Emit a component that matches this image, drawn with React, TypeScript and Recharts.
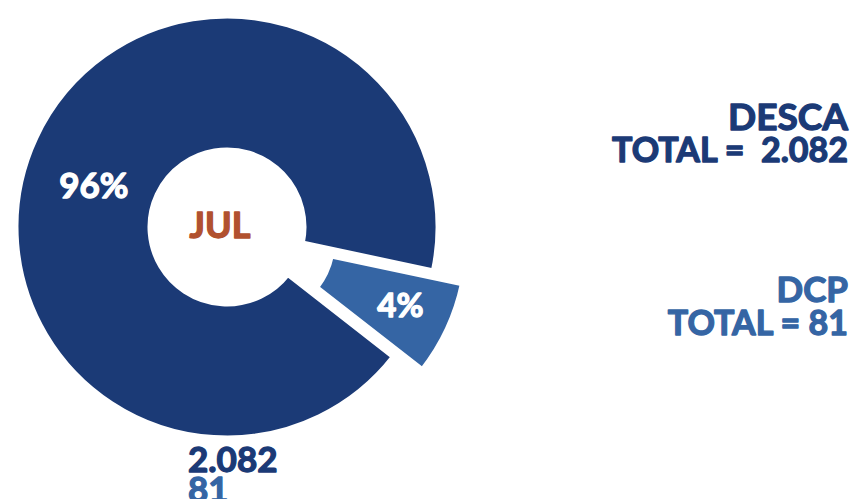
import { PieChart, Pie, Cell } from "recharts";

// slice data
const categories = ["DESCA", "DCP"];
const totals = [2082, 81];
const monthLabel = "JUL";
const totalLabels = ["2.082", "81"];

const data = categories.map((name, i) => ({ name, value: totals[i] }));

const NAVY = "#1b3a76";
const LIGHT = "#3565a4";
const RUST = "#b1512f";
const FONT = "Lato, 'Open Sans', sans-serif";

const CX = 222;
const CY = 222;
const START = -12;
// offset of the exploded DCP slice
const EXPLODE = { dx: 29, dy: 13 };
// label placement tweaks per slice
const LABEL_RADIUS = [140, 158];
const LABEL_SHIFT = [7, 1];

const RAD = Math.PI / 180;

// heavier lettering: fill + same-colour outline
const heavy = (c: string, w = 1.3) => ({
  fill: c,
  stroke: c,
  strokeWidth: w,
  strokeLinejoin: "round" as const,
});

const renderLabel = (only: number) => (props: any) => {
  const { cx, cy, midAngle, percent, index } = props;
  if (index !== only) return null;
  const a = (midAngle + LABEL_SHIFT[index]) * RAD;
  const r = LABEL_RADIUS[index];
  const x = cx + r * Math.cos(-a);
  const y = cy + r * Math.sin(-a);
  return (
    <text
      x={x}
      y={y}
      {...heavy("#fff")}
      textAnchor="middle"
      dominantBaseline="central"
      fontFamily={FONT}
      fontWeight={700}
      fontSize={index === 0 ? 35 : 33}
    >
      {`${Math.round(percent * 100)}%`}
    </text>
  );
};

export default function App() {
  return (
    <div style={{ position: "absolute", left: 0, top: 0, width: 855, height: 499, background: "#fff" }}>
      <PieChart width={855} height={499}>
        <Pie
          data={data}
          dataKey="value"
          nameKey="name"
          cx={CX}
          cy={CY}
          innerRadius={77}
          outerRadius={211}
          startAngle={START}
          endAngle={START + 360}
          minAngle={13.5}
          label={renderLabel(0)}
          labelLine={false}
          isAnimationActive={false}
        >
          <Cell fill={NAVY} stroke="#fff" strokeWidth={5} />
          <Cell fill="transparent" stroke="none" />
        </Pie>
        <Pie
          data={data}
          dataKey="value"
          nameKey="name"
          cx={CX + EXPLODE.dx}
          cy={CY + EXPLODE.dy}
          innerRadius={77}
          outerRadius={211}
          startAngle={START}
          endAngle={START + 360}
          minAngle={13.5}
          label={renderLabel(1)}
          labelLine={false}
          isAnimationActive={false}
        >
          <Cell fill="transparent" stroke="none" />
          <Cell fill={LIGHT} stroke="#fff" strokeWidth={5} />
        </Pie>
      </PieChart>
      <svg
        width={855}
        height={499}
        style={{ position: "absolute", left: 0, top: 0, pointerEvents: "none" }}
        fontFamily={FONT}
        fontWeight={700}
      >
        <text x={220} y={238} textAnchor="middle" {...heavy(RUST)} fontSize={36}>
          {monthLabel}
        </text>
        <text x={848} y={130} textAnchor="end" {...heavy(NAVY)} fontSize={37}>
          {categories[0]}
        </text>
        <text x={848} y={162} textAnchor="end" {...heavy(NAVY)} fontSize={34} style={{ whiteSpace: "pre" }}>
          {`TOTAL =  ${totalLabels[0]}`}
        </text>
        <text x={848} y={302} textAnchor="end" {...heavy(LIGHT)} fontSize={35}>
          {categories[1]}
        </text>
        <text x={848} y={335} textAnchor="end" {...heavy(LIGHT)} fontSize={34}>
          {`TOTAL = ${totalLabels[1]}`}
        </text>
        <text x={188} y={472} {...heavy(NAVY)} fontSize={35}>
          {totalLabels[0]}
        </text>
        <text x={188} y={502} {...heavy(LIGHT)} fontSize={35}>
          {totalLabels[1]}
        </text>
      </svg>
    </div>
  );
}
